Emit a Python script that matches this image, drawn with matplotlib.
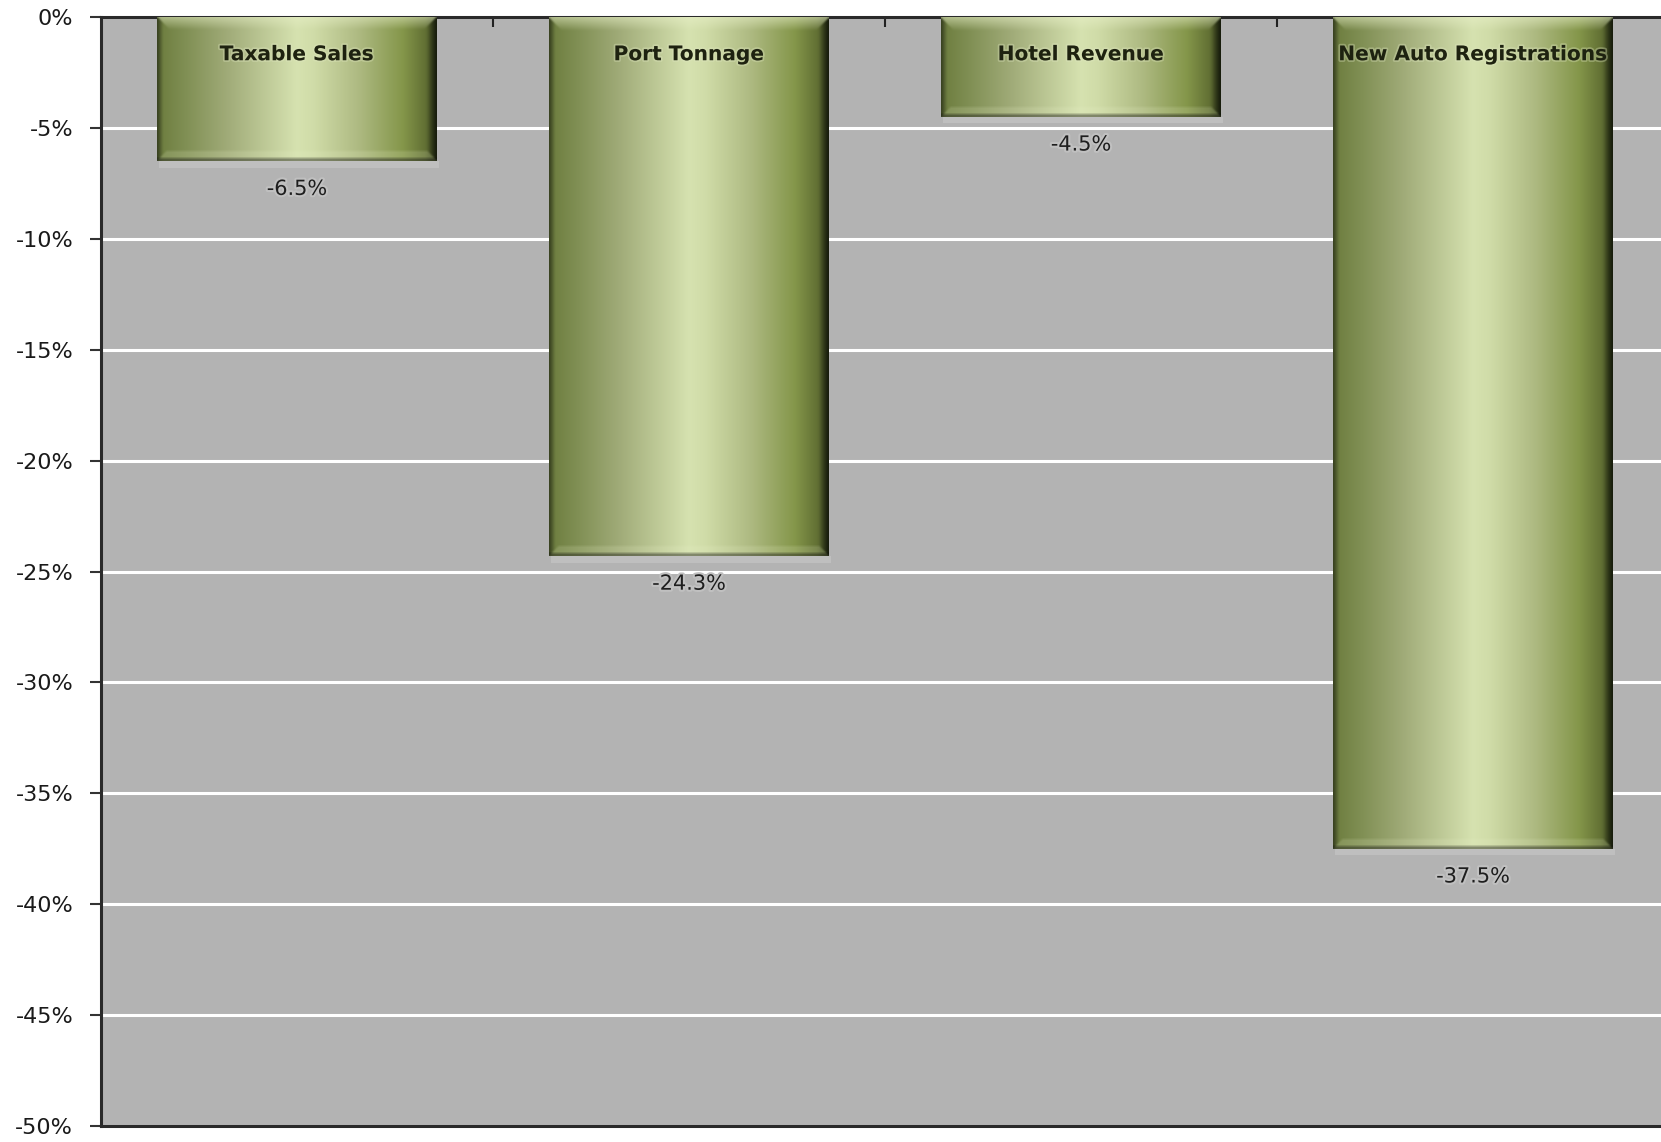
import numpy as np
import matplotlib
matplotlib.use("Agg")
import matplotlib.pyplot as plt
import matplotlib.patheffects as pe
from matplotlib.patches import Rectangle

# Year-over-year change by indicator (percent)
categories = ["Taxable Sales", "Port Tonnage", "Hotel Revenue", "New Auto Registrations"]
changes = [-6.5, -24.3, -4.5, -37.5]
value_labels = ["-6.5%", "-24.3%", "-4.5%", "-37.5%"]
y_ticks = [0, -5, -10, -15, -20, -25, -30, -35, -40, -45, -50]

W_PX, H_PX, DPI = 1661, 1142, 100
BG = "#b3b3b3"
BAR_W = 0.714

fig = plt.figure(figsize=(W_PX / DPI, H_PX / DPI), dpi=DPI)
ax = fig.add_axes([101 / W_PX, 16 / H_PX, 1568 / W_PX, 1109 / H_PX])
ax.set_facecolor(BG)

ax.set_xlim(-0.5, len(categories) - 0.5)
ax.set_ylim(-50, 0)

# Horizontal colour ramp of the bevelled olive bars
stops = np.array([0.0, 0.02, 0.10, 0.25, 0.50, 0.56, 0.72, 0.88, 0.96, 1.0])
ramp = np.array([
    [78, 90, 44], [112, 128, 66], [128, 143, 84], [160, 171, 120],
    [214, 226, 176], [208, 220, 168], [174, 186, 130], [132, 150, 74],
    [98, 112, 52], [50, 60, 26],
]) / 255.0


def smooth(img, k=3):
    """Light box blur so bevel edges blend in."""
    pad = k // 2
    p = np.pad(img, ((pad, pad), (pad, pad), (0, 0)), mode="edge")
    out = np.zeros_like(img)
    for dy in range(k):
        for dx in range(k):
            out += p[dy:dy + img.shape[0], dx:dx + img.shape[1]]
    return out / (k * k)


def bar_image(value):
    """RGB array for one bar: horizontal sheen plus bevelled edges."""
    axis_px = ax.get_position().height * H_PX
    rows = max(int(round(abs(value) / 50 * axis_px)), 4)
    cols = int(round(BAR_W / len(categories) * ax.get_position().width * W_PX))
    u = np.linspace(0, 1, cols)
    base = np.stack([np.interp(u, stops, ramp[:, c]) for c in range(3)], axis=-1)
    img = np.repeat(base[None, :, :], rows, axis=0)

    yy, xx = np.mgrid[0:rows, 0:cols]
    dt, db = yy, rows - 1 - yy
    dl, dr = xx, cols - 1 - xx
    b = 13
    light = np.array([232, 240, 200]) / 255.0

    top = (dt < b) & (dt <= dl) & (dt <= dr)
    w = (0.55 * (1 - dt / b))[..., None]
    img = np.where(top[..., None], img * (1 - w) + light * w, img)

    left = (dl < 6) & (dl < dt) & (dl < db)
    img = np.where(left[..., None], img * (0.72 + 0.28 * dl / 6)[..., None], img)
    right = (dr < 9) & (dr < dt) & (dr < db)
    img = np.where(right[..., None], img * (0.45 + 0.55 * dr / 9)[..., None], img)

    bot = (db < 10) & (db <= dl) & (db <= dr)
    img = np.where(bot[..., None], img * 0.82 + light * 0.18, img)
    edge = db < 3
    img = np.where(edge[..., None], img * 0.6, img)
    return np.clip(smooth(img), 0, 1)


for i, (name, val, lab) in enumerate(zip(categories, changes, value_labels)):
    x0, x1 = i - BAR_W / 2, i + BAR_W / 2
    # soft shadow under the bar
    ax.add_patch(Rectangle((x0 + 0.004, val - 0.3), BAR_W, 0.3,
                           facecolor="#bfbfbf", edgecolor="none", zorder=2))
    ax.bar(i, val, width=BAR_W, color="none", zorder=3)
    ax.imshow(bar_image(val), extent=(x0, x1, val, 0), origin="upper",
              aspect="auto", interpolation="bilinear", zorder=3)
    ax.text(i, -1.7, name, ha="center", va="center", fontsize=14.5,
            fontweight="bold", color="#1e2210", zorder=5,
            path_effects=[pe.withStroke(linewidth=2.5, foreground="#dfe7c0", alpha=0.35)])
    ax.text(i, val - 1.25, lab, ha="center", va="center", fontsize=15,
            color="#1e1e1e", zorder=5,
            path_effects=[pe.withStroke(linewidth=3, foreground="#c0c0c0")])

ax.set_xlim(-0.5, len(categories) - 0.5)
ax.set_ylim(-50, 0)

# gridlines
ax.set_yticks(y_ticks)
ax.set_yticklabels([f"{t}%" for t in y_ticks], fontsize=16, color="#1a1a1a")
ax.yaxis.grid(True, color="white", linewidth=2.2, zorder=1)
ax.set_axisbelow(True)
ax.tick_params(axis="y", length=8, width=1.5, color="#333333", pad=12)

# category separators along the zero line
ax.set_xticks([k + 0.5 for k in range(len(categories) - 1)])
ax.set_xticklabels([])
ax.xaxis.tick_top()
ax.tick_params(axis="x", direction="in", length=7, width=1.5, color="#222222")

for side in ("left", "top", "bottom"):
    ax.spines[side].set_color("#2a2a2a")
    ax.spines[side].set_linewidth(2.2)
ax.spines["right"].set_visible(False)

fig.savefig("out.png", dpi=DPI, facecolor="white")
